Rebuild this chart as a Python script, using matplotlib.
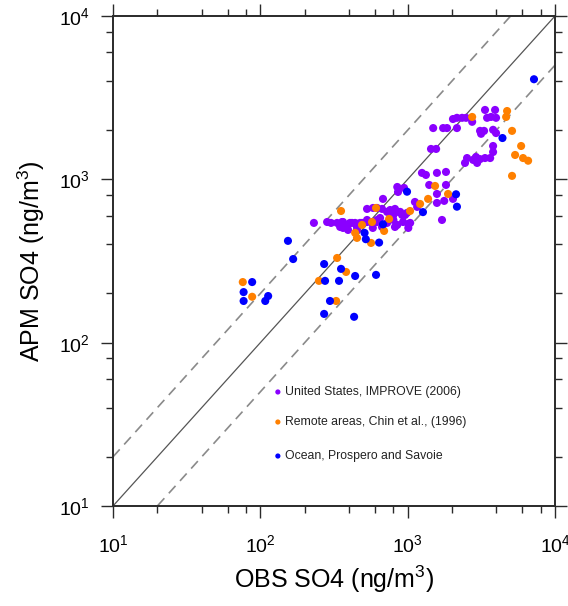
import matplotlib
matplotlib.use("Agg")
import matplotlib.pyplot as plt
from matplotlib.ticker import LogLocator, FuncFormatter, NullFormatter
import numpy as np

plt.rcParams["font.family"] = ["Liberation Sans", "DejaVu Sans"]
plt.rcParams["mathtext.fontset"] = "custom"
plt.rcParams["mathtext.rm"] = "Liberation Sans"
plt.rcParams["mathtext.it"] = "Liberation Sans:italic"
plt.rcParams["mathtext.default"] = "regular"

# --- Sulfate concentrations (ng/m3): observed vs. APM model ---
# United States, IMPROVE (2006)
improve_obs = [3350, 3920, 3460, 3680, 3980, 2030, 2160, 2340, 2490, 2740,
               1490, 1740, 1850, 2160, 3100, 3300, 3150, 3800, 3980, 1440,
               1560, 3800, 3800, 2450, 2530, 2780, 2910, 2960, 3100, 3350,
               3630, 1250, 1330, 1580, 1820, 1400, 1820, 850, 860, 945,
               680, 1580, 1580, 1770, 2030, 1120, 1160, 1710, 530, 582,
               670, 760, 820, 890, 960, 990, 860, 800, 916, 725,
               364, 406, 440, 475, 530, 620, 650, 800, 850, 930,
               1040, 1010, 580, 388, 348, 820, 1010, 231, 284, 302,
               332, 359, 388, 419, 453, 490, 530, 573, 620, 670,
               725, 364, 394, 453, 620]
improve_apm = [2660, 2660, 2380, 2410, 2380, 2340, 2380, 2380, 2380, 2250,
               2060, 2060, 2060, 2060, 1980, 1980, 1900, 2010, 1920, 1535,
               1535, 1600, 1470, 1260, 1350, 1315, 1370, 1260, 1330, 1350,
               1350, 1095, 1064, 1095, 1110, 924, 924, 898, 837, 886,
               759, 814, 717, 738, 759, 727, 678, 564, 659, 668,
               659, 649, 659, 632, 605, 623, 632, 605, 605, 632,
               548, 541, 541, 541, 564, 564, 580, 564, 526, 548,
               541, 504, 504, 504, 511, 511, 533, 541, 548, 541,
               541, 548, 526, 541, 511, 541, 548, 541, 548, 511,
               541, 504, 490, 490, 668]

# Remote areas, Chin et al. (1996)
remote_obs = [4730, 4660, 2740, 5110, 5890, 5360, 6070, 6570, 5110, 1535,
              1880, 1376, 1214, 1038, 748, 610, 573, 490, 692, 440,
              453, 564, 353, 332, 382, 250, 327, 76, 88]
remote_apm = [2620, 2410, 2410, 1980, 1600, 1410, 1350, 1300, 1050, 911,
              814, 759, 707, 640, 572, 668, 548, 526, 483, 470,
              438, 408, 640, 330, 271, 239, 180, 235, 191]

# Ocean, Prospero and Savoie
ocean_obs = [7200, 4400, 2130, 2160, 990, 1270, 680, 510, 520, 640,
             440, 610, 353, 271, 275, 342, 297, 271, 433, 154,
             167, 88, 77, 77, 113, 108]
ocean_apm = [4100, 1790, 810, 680, 840, 630, 530, 470, 430, 410,
             256, 260, 283, 303, 239, 239, 180, 150, 144, 420,
             325, 235, 204, 180, 193, 180]

series_labels = ["United States, IMPROVE (2006)",
                 "Remote areas, Chin et al., (1996)",
                 "Ocean, Prospero and Savoie"]
series_colors = ["#8A00FF", "#FF8000", "#0000FF"]

axis_min, axis_max = 10, 1e4

fig = plt.figure(figsize=(5.68, 6.06), dpi=100)
ax = fig.add_axes([113 / 568, 1 - 506 / 606, 442 / 568, 490 / 606])
ax.set_xscale("log")
ax.set_yscale("log")
ax.set_xlim(axis_min, axis_max)
ax.set_ylim(axis_min, axis_max)

# 1:1 line and factor-of-two envelope
ref = np.array([axis_min, axis_max])
ax.plot(ref, ref, color="#555555", lw=0.9, zorder=1)
ax.plot(ref, ref * 2, color="#8a8a8a", lw=1.2, ls=(0, (6, 4)), zorder=1)
ax.plot(ref, ref / 2, color="#8a8a8a", lw=1.2, ls=(0, (6, 4)), zorder=1)

series = [(improve_obs, improve_apm), (remote_obs, remote_apm), (ocean_obs, ocean_apm)]
for (xo, ya), col in zip(series, series_colors):
    ax.scatter(xo, ya, s=34, color=col, edgecolors="none", zorder=3)

# Legend entries
leg_rows = [0.2327, 0.1714, 0.102]
for yr, lab, col in zip(leg_rows, series_labels, series_colors):
    ax.scatter([0.373], [yr], s=14, color=col, edgecolors="none",
               transform=ax.transAxes, zorder=4, clip_on=False)
    ax.text(0.389, yr, lab, transform=ax.transAxes, fontsize=8.8,
            color="#222222", va="center", ha="left")

# Axes decoration
for sp in ax.spines.values():
    sp.set_linewidth(1.4)
    sp.set_color("#2a2a2a")

major = LogLocator(base=10, numticks=10)
minor = LogLocator(base=10, subs=(2, 4, 6, 8), numticks=10)
fmt = FuncFormatter(lambda v, p: r"$10^{%d}$" % int(round(np.log10(v))))
for axis in (ax.xaxis, ax.yaxis):
    axis.set_major_locator(major)
    axis.set_minor_locator(minor)
    axis.set_major_formatter(fmt)
    axis.set_minor_formatter(NullFormatter())

ax.tick_params(which="both", direction="out", top=True, right=True,
               color="#2a2a2a", width=1.0)
ax.tick_params(which="major", length=8.5, labelsize=14)
ax.tick_params(axis="x", which="major", pad=12)
ax.tick_params(axis="y", which="major", pad=8)
ax.tick_params(which="minor", length=5)

ax.set_xlabel("OBS SO4 (ng/m$^3$)", fontsize=18, labelpad=5)
ax.set_ylabel("APM SO4 (ng/m$^3$)", fontsize=18, labelpad=9)

fig.savefig("out.png", dpi=100)
